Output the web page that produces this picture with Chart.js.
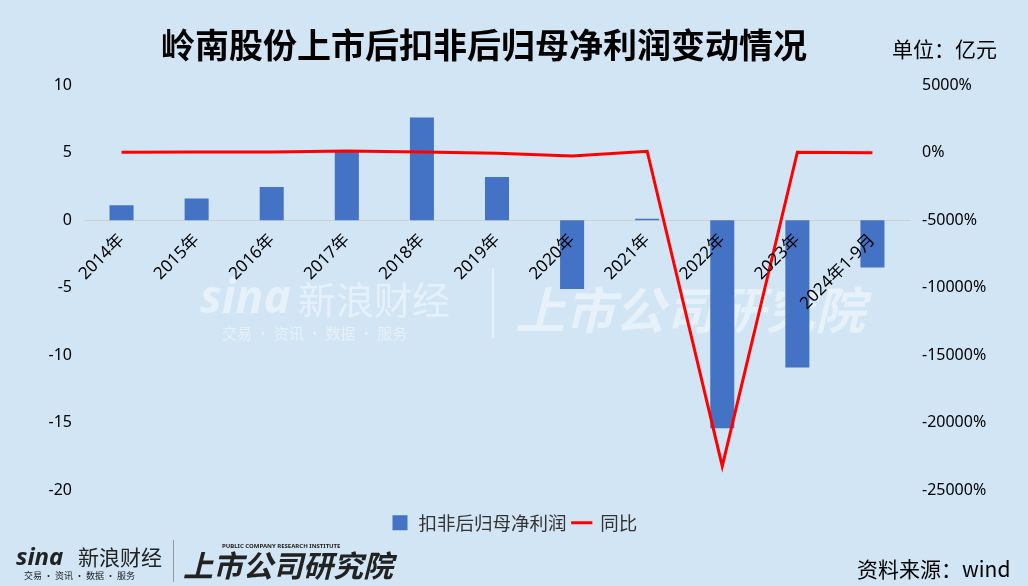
<!DOCTYPE html>
<html>
<head>
<meta charset="utf-8">
<script src="https://cdn.jsdelivr.net/npm/chart.js@4.4.0/dist/chart.umd.min.js"></script>
<style>
  body { margin: 0; background: #d1e5f4; }
  #wrap { width: 1028px; height: 586px; position: relative; }
</style>
</head>
<body>
<div id="wrap"><canvas id="myChart"></canvas></div>
<script>
const ctx = document.getElementById('myChart');

// data
const years = ['2014年', '2015年', '2016年', '2017年', '2018年', '2019年', '2020年', '2021年', '2022年', '2023年', '2024年1-9月'];
const profit = [1.1, 1.6, 2.45, 5.2, 7.6, 3.2, -5.1, 0.1, -15.4, -10.9, -3.5];
const yoy = [20, 45, 50, 110, 45, -58, -250, 102, -23200, 30, -20];
const leftTicks = [-20, -15, -10, -5, 0, 5, 10];
const rightTicks = [-25000, -20000, -15000, -10000, -5000, 0, 5000];

const font = '"Noto Sans", "Noto Sans CJK SC", sans-serif';
const cjk = '"Noto Sans CJK SC", sans-serif';

const texts = {
    id: 'texts',
    afterLayout(chart) {
        // push the legend down a bit, like the original
        chart.legend.top += 17;
        chart.legend.bottom += 17;
    },
    beforeDraw(chart) {
        const c = chart.ctx;
        c.save();
        c.fillStyle = '#d1e5f4';
        c.fillRect(0, 0, chart.width, chart.height);
        // faint watermark
        c.fillStyle = 'rgba(255,255,255,0.45)';
        c.font = 'italic bold 46px ' + font;
        c.textBaseline = 'middle';
        c.fillText('sina', 200, 300);
        c.font = '38px ' + cjk;
        c.fillText('新浪财经', 298, 300);
        c.font = '15px ' + cjk;
        c.fillText('交易 · 资讯 · 数据 · 服务', 222, 333);
        c.fillRect(492, 268, 2, 70);
        c.font = 'italic bold 50px ' + cjk;
        c.fillText('上市公司研究院', 515, 310);
        c.restore();
    },
    afterDraw(chart) {
        const c = chart.ctx;
        c.save();
        c.fillStyle = '#000';
        c.textBaseline = 'middle';
        c.textAlign = 'center';
        c.font = 'bold 34px ' + cjk;
        c.fillText('岭南股份上市后扣非后归母净利润变动情况', 484, 45);
        c.textAlign = 'left';
        c.font = '21px ' + cjk;
        c.fillText('单位：亿元', 892, 49);
        c.fillText('资料来源：wind', 857, 569);
        // bottom-left logo
        c.fillStyle = '#222';
        c.font = 'italic bold 24px ' + font;
        c.fillText('sina', 16, 558);
        c.font = '21px ' + cjk;
        c.fillText('新浪财经', 78, 557);
        c.font = '9px ' + cjk;
        c.fillText('交易 · 资讯 · 数据 · 服务', 24, 576);
        c.fillStyle = '#999';
        c.fillRect(173, 540, 1, 42);
        c.fillStyle = '#222';
        c.font = 'italic bold 30px ' + cjk;
        c.fillText('上市公司研究院', 183, 566);
        c.font = 'bold 6px ' + font;
        c.fillText('PUBLIC COMPANY RESEARCH INSTITUTE', 222, 546);
        c.restore();
    }
};

new Chart(ctx, {
    type: 'bar',
    data: {
        labels: years,
        datasets: [{
            label: '扣非后归母净利润',
            data: profit,
            backgroundColor: '#4472c4',
            barPercentage: 0.64,
            categoryPercentage: 0.5,
            yAxisID: 'y',
            order: 1,
            pointStyle: 'rect'
        }, {
            type: 'line',
            label: '同比',
            data: yoy,
            borderColor: '#ff0000',
            backgroundColor: '#ff0000',
            borderWidth: 3,
            pointRadius: 0,
            tension: 0,
            yAxisID: 'y1',
            order: 0,
            pointStyle: 'line'
        }]
    },
    options: {
        responsive: true,
        maintainAspectRatio: false,
        animation: false,
        layout: { padding: { top: 85, bottom: 61, left: 0, right: 0 } },
        plugins: {
            tooltip: { enabled: false },
            legend: {
                position: 'bottom',
                labels: {
                    usePointStyle: true,
                    color: '#333',
                    font: { family: cjk, size: 18.5 },
                    boxWidth: 20,
                    boxHeight: 15,
                    padding: 6,
                    sort: (a, b) => a.datasetIndex - b.datasetIndex
                }
            }
        },
        scales: {
            x: {
                position: { y: 0 },
                offset: true,
                grid: { display: false },
                border: { color: '#d0d0d0', width: 1 },
                ticks: {
                    z: 1,
                    color: '#000',
                    font: { family: font, size: 17 },
                    minRotation: 45,
                    maxRotation: 45,
                    autoSkip: false,
                    padding: 2
                }
            },
            y: {
                position: 'left',
                min: -20,
                max: 10,
                afterBuildTicks: s => { s.ticks = leftTicks.map(v => ({ value: v })); },
                grid: { display: false },
                border: { display: false },
                ticks: { color: '#000', font: { family: font, size: 16 }, padding: 4 },
                afterFit: s => { s.width = 84; }
            },
            y1: {
                position: 'right',
                min: -25000,
                max: 5000,
                afterBuildTicks: s => { s.ticks = rightTicks.map(v => ({ value: v })); },
                grid: { display: false },
                border: { display: false },
                ticks: {
                    color: '#000',
                    font: { family: font, size: 16 },
                    padding: 4,
                    callback: v => v + '%'
                },
                afterFit: s => { s.width = 118; }
            }
        }
    },
    plugins: [texts]
});
</script>
</body>
</html>
